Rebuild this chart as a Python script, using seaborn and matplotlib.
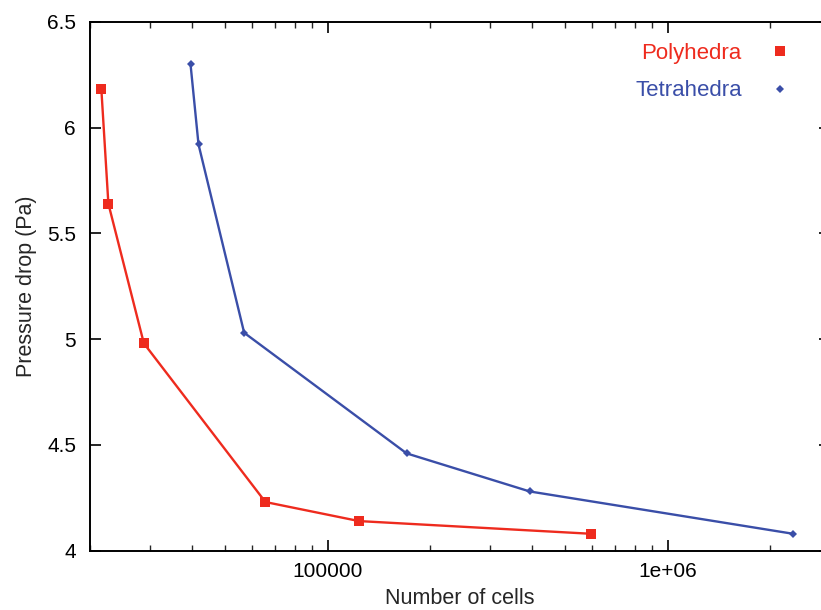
import numpy as np
import pandas as pd
import seaborn as sns
import matplotlib
matplotlib.use("Agg")
import matplotlib.pyplot as plt
from matplotlib.ticker import FixedLocator, FixedFormatter, LogLocator, NullFormatter

# values
poly_cells = [21600, 22650, 28800, 65600, 123600, 594000]
poly_dp = [6.18, 5.64, 4.98, 4.23, 4.14, 4.08]
tetra_cells = [39500, 41700, 56800, 170600, 392700, 2336000]
tetra_dp = [6.30, 5.92, 5.03, 4.46, 4.28, 4.08]

xtick_vals = [1e5, 1e6]
xtick_labels = ["100000", "1e+06"]
ytick_vals = [4, 4.5, 5, 5.5, 6, 6.5]
ytick_labels = ["4", "4.5", "5", "5.5", "6", "6.5"]

df = pd.concat([
    pd.DataFrame({"cells": poly_cells, "dp": poly_dp, "mesh": "Polyhedra"}),
    pd.DataFrame({"cells": tetra_cells, "dp": tetra_dp, "mesh": "Tetrahedra"}),
])

sns.set_style("ticks")
plt.rcParams["font.family"] = ["Liberation Sans", "DejaVu Sans"]

red = "#ee2b1e"
blue = "#3a4ea8"

fig = plt.figure(figsize=(8.21, 6.10), dpi=100)
ax = fig.add_axes([90 / 821, 1 - 550.7 / 610, 740 / 821, 529 / 610])

sns.lineplot(data=df, x="cells", y="dp", hue="mesh", style="mesh",
             palette={"Polyhedra": red, "Tetrahedra": blue},
             markers={"Polyhedra": "s", "Tetrahedra": "D"},
             dashes=False, linewidth=1.7, markeredgewidth=0,
             legend=False, ax=ax, sort=False)
for line, ms in zip(ax.lines, [6.5, 4.5]):
    line.set_markersize(ms)

ax.set_xscale("log")
ax.set_xlim(2e4, 3e6)
ax.set_ylim(4, 6.5)

ax.xaxis.set_major_locator(FixedLocator(xtick_vals))
ax.xaxis.set_major_formatter(FixedFormatter(xtick_labels))
ax.xaxis.set_minor_locator(LogLocator(base=10, subs=np.arange(2, 10)))
ax.xaxis.set_minor_formatter(NullFormatter())
ax.yaxis.set_major_locator(FixedLocator(ytick_vals))
ax.yaxis.set_major_formatter(FixedFormatter(ytick_labels))

ax.tick_params(which="major", direction="in", length=8, width=1.2,
               top=True, right=True, labelsize=15, pad=10, colors="black")
ax.tick_params(axis="x", which="major", pad=8)
ax.tick_params(which="minor", direction="in", length=4, width=1.0,
               top=True, right=True)
for s in ax.spines.values():
    s.set_linewidth(1.4)
    s.set_color("black")

ax.set_xlabel("Number of cells", fontsize=15.5, labelpad=5)
ax.set_ylabel("Pressure drop (Pa)", fontsize=15.5, labelpad=7)

# legend in gnuplot style: text on the left, marker on the right
handles = [
    plt.Line2D([], [], color=red, marker="s", markersize=6.5, linestyle="none", markeredgewidth=0),
    plt.Line2D([], [], color=blue, marker="D", markersize=4.5, linestyle="none", markeredgewidth=0),
]
leg = ax.legend(handles, ["Polyhedra", "Tetrahedra"], loc="upper right",
                bbox_to_anchor=(0.947, 0.9605), frameon=False, markerfirst=False,
                handlelength=1.0, handletextpad=1.21, labelspacing=0.76,
                borderpad=0, borderaxespad=0, fontsize=16)
for t, c in zip(leg.get_texts(), [red, blue]):
    t.set_color(c)

fig.savefig("out.png", dpi=100)
